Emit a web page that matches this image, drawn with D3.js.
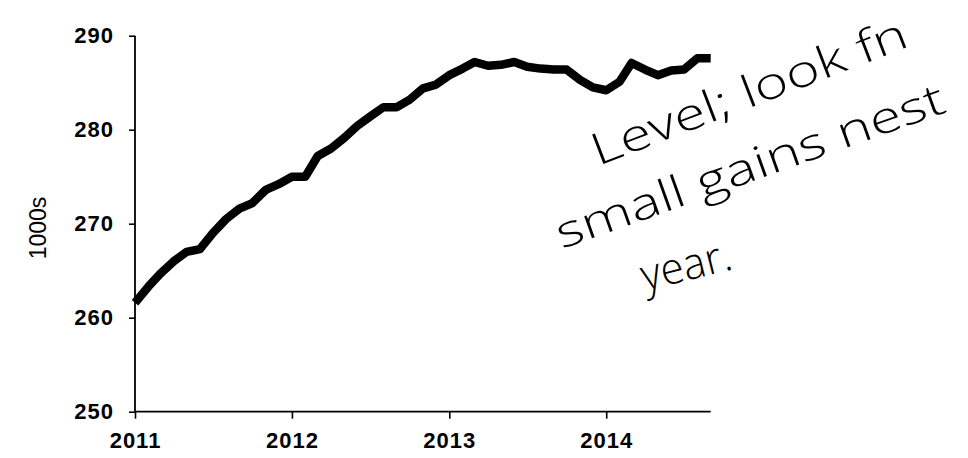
<!DOCTYPE html>
<html>
<head>
<meta charset="utf-8">
<script src="https://cdn.jsdelivr.net/npm/d3@7"></script>
<style>
  html, body { margin: 0; padding: 0; background: #fff; }
  svg { display: block; }
</style>
</head>
<body>
<svg id="chart" width="968" height="458"></svg>
<script>
// ---- data ----
const months = [
  "2011-01","2011-02","2011-03","2011-04","2011-05","2011-06","2011-07","2011-08","2011-09","2011-10","2011-11","2011-12",
  "2012-01","2012-02","2012-03","2012-04","2012-05","2012-06","2012-07","2012-08","2012-09","2012-10","2012-11","2012-12",
  "2013-01","2013-02","2013-03","2013-04","2013-05","2013-06","2013-07","2013-08","2013-09","2013-10","2013-11","2013-12",
  "2014-01","2014-02","2014-03","2014-04","2014-05","2014-06","2014-07","2014-08","2014-09"
];
const values = [
  261.6, 263.3, 264.7, 266.0, 267.0, 267.3, 269.0, 270.5, 271.6, 272.2, 273.6, 274.2,
  275.0, 275.0, 277.2, 278.0, 279.1, 280.4, 281.4, 282.4, 282.4, 283.2, 284.4, 284.8,
  285.8, 286.5, 287.2, 286.8, 286.9, 287.2, 286.7, 286.5, 286.4, 286.4, 285.3, 284.5,
  284.2, 285.1, 287.1, 286.4, 285.8, 286.3, 286.4, 287.6, 287.6
];
const yTicks = [250, 260, 270, 280, 290];
const xTickYears = ["2011", "2012", "2013", "2014"];
const yLabel = "1000s";
const noteLines = ["Level; look fn", "small gains nest", "year."];

// ---- layout ----
const svg = d3.select("#chart");
const parse = d3.timeParse("%Y-%m");
const data = months.map((m, i) => ({ date: parse(m), value: values[i] }));

const x = d3.scaleTime()
  .domain([parse("2011-01"), parse("2014-09")])
  .range([135, 710.7]);
const y = d3.scaleLinear()
  .domain([250, 290])
  .range([411.7, 35.7]);

const axisFont = "'Liberation Sans', Arial, sans-serif";

// y axis
const yAxis = svg.append("g")
  .attr("transform", `translate(${x.range()[0]},0)`)
  .call(d3.axisLeft(y).tickValues(yTicks).tickSize(6).tickPadding(15).tickFormat(d3.format("d")));
yAxis.select(".domain").attr("stroke", "#000").attr("stroke-width", 1.8).attr("d", `M0,${y(290)}V${y(250)}`);
yAxis.selectAll(".tick line").attr("stroke", "#000").attr("stroke-width", 1.6);
yAxis.selectAll(".tick text")
  .attr("font-family", axisFont).attr("font-size", 22).attr("font-weight", "bold")
  .attr("letter-spacing", 1).attr("fill", "#000");

// x axis
const xAxis = svg.append("g")
  .attr("transform", `translate(0,${y(250)})`)
  .call(d3.axisBottom(x)
    .tickValues(xTickYears.map(s => d3.timeParse("%Y")(s)))
    .tickSize(7).tickPadding(14).tickFormat(d3.timeFormat("%Y")));
xAxis.select(".domain").attr("stroke", "#000").attr("stroke-width", 1.8).attr("d", `M${x.range()[0]},0H${x.range()[1]}`);
xAxis.selectAll(".tick line").attr("stroke", "#000").attr("stroke-width", 1.6);
xAxis.selectAll(".tick text")
  .attr("font-family", axisFont).attr("font-size", 22).attr("font-weight", "bold")
  .attr("letter-spacing", 1).attr("fill", "#000");

// y label
svg.append("text")
  .attr("transform", "translate(46,228) rotate(-90)")
  .attr("text-anchor", "middle")
  .attr("font-family", axisFont)
  .attr("font-size", 23)
  .attr("fill", "#000")
  .text(yLabel);

// line
svg.append("path")
  .datum(data)
  .attr("fill", "none")
  .attr("stroke", "#000")
  .attr("stroke-width", 8.5)
  .attr("stroke-linejoin", "round")
  .attr("stroke-linecap", "butt")
  .attr("d", d3.line().x(d => x(d.date)).y(d => y(d.value)));

// handwritten note
const notePos = [
  { x: 598, y: 166, angle: -21, len: 335, size: 44 },
  { x: 562, y: 249, angle: -19.6, len: 410, size: 44 },
  { x: 645, y: 291, angle: -14, len: 92, size: 44 }
];
svg.append("g").selectAll("text")
  .data(noteLines)
  .join("text")
  .attr("transform", (d, i) => `translate(${notePos[i].x},${notePos[i].y}) rotate(${notePos[i].angle})`)
  .attr("font-family", "'Open Sans', sans-serif")
  .attr("font-weight", 300)
  .attr("font-size", (d, i) => notePos[i].size)
  .attr("textLength", (d, i) => notePos[i].len)
  .attr("lengthAdjust", "spacingAndGlyphs")
  .attr("fill", "#000")
  .text(d => d);
</script>
</body>
</html>
